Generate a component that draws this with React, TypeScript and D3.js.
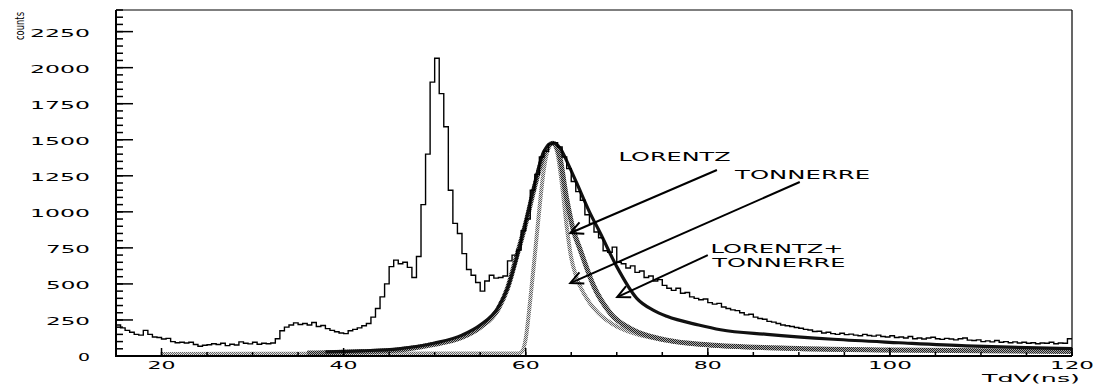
import React from 'react';
import * as d3 from 'd3';

// histogram: 0.5 ns bins starting at 15 ns
const BIN_START = 15;
const BIN_WIDTH = 0.5;
const histCounts = [
  215, 195, 178, 165, 150, 145, 178, 150, 132, 128,
  118, 122, 100, 92, 95, 90, 95, 80, 68, 75,
  78, 85, 80, 88, 72, 82, 76, 98, 88, 84,
  95, 82, 88, 85, 90, 120, 175, 200, 215, 230,
  218, 225, 215, 232, 205, 212, 190, 178, 168, 160,
  155, 175, 185, 195, 210, 225, 270, 330, 410, 500,
  620, 665, 640, 650, 615, 545, 690, 1050, 1400, 1900,
  2065, 1820, 1590, 1150, 920, 850, 710, 600, 560, 510,
  450, 520, 560, 540, 545, 555, 660, 700, 735, 870,
  950, 1150, 1260, 1380, 1420, 1470, 1480, 1450, 1380, 1300,
  1210, 1140, 1080, 980, 920, 860, 820, 730, 720, 755,
  650, 640, 610, 625, 580, 590, 545, 555, 520, 530,
  490, 470, 455, 470, 435, 440, 410, 400, 390, 395,
  370, 360, 365, 340, 330, 320, 315, 300, 285, 290,
  270, 260, 255, 240, 235, 225, 215, 210, 205, 198,
  192, 185, 180, 170, 172, 160, 165, 155, 150, 158,
  148, 152, 145, 140, 150, 142, 138, 145, 135, 132,
  140, 128, 132, 125, 135, 120, 125, 118, 125, 130,
  120, 115, 122, 118, 112, 120, 125, 110, 108, 112,
  100, 105, 98, 108, 95, 100, 92, 98, 90, 95,
  88, 92, 85, 90, 88, 95, 85, 90, 88, 120,
];

// fitted curves
const tonnerrePts: [number, number][] = [
  [20, 14], [30, 15], [40, 16], [50, 17], [59.2, 18], [59.6, 30], [60.0, 120], [60.5, 390],
  [61.0, 700], [61.5, 1020], [62.0, 1300], [62.5, 1440], [63.0, 1475], [63.5, 1400],
  [64.0, 1180], [64.5, 900], [65.0, 680], [65.5, 560], [66.0, 480], [67, 370], [68, 296],
  [70, 205], [72, 155], [75, 112], [80, 75], [85, 58], [90, 48], [100, 40], [110, 34], [120, 30],
];
const lorentzPts: [number, number][] = [
  [36, 20], [40, 26], [42, 30], [46, 42], [49.5, 76], [53, 130], [55, 200], [57, 330],
  [58, 470], [59, 690], [60, 920], [61, 1180], [62, 1400], [63, 1475], [63.6, 1420],
  [64.5, 1090], [65.2, 880], [66, 735], [67.5, 481], [69.3, 296], [71.8, 180], [75.5, 110],
  [80, 78], [90, 52], [100, 42], [110, 36], [120, 32],
];
const sumPts: [number, number][] = [
  [38, 28], [42, 36], [46, 50], [50, 90], [53, 145], [55, 215], [57, 340], [58, 470],
  [59, 680], [60, 930], [61, 1200], [62, 1420], [63, 1478], [63.8, 1440], [64.6, 1340],
  [65.6, 1200], [67, 1000], [68.2, 851], [70, 620], [72.2, 400], [74, 318], [75.5, 275],
  [79, 215], [81.4, 182], [86.5, 150], [93.8, 116], [101, 92], [108.4, 70], [115, 58], [120, 52],
];

const xMajorTicks = [20, 40, 60, 80, 100, 120];
const xMinorTicks = d3.range(20, 121, 5);
const yMajorTicks = d3.range(0, 2251, 250);
const yMinorTicks = d3.range(0, 2401, 50);

// annotation texts and arrows (data coordinates)
const labels = [
  { text: 'LORENTZ', x: 70.2, y: 1352, len: 112 },
  { text: 'TONNERRE', x: 83.0, y: 1227, len: 135 },
  { text: 'LORENTZ+', x: 80.3, y: 714, len: 133 },
  { text: 'TONNERRE', x: 80.5, y: 617, len: 133 },
];
const arrows = [
  { from: [81.0, 1290], to: [64.9, 853] },
  { from: [90.1, 1207], to: [64.9, 506] },
  { from: [80.0, 700], to: [70.05, 409] },
];

const W = 1097;
const H = 384;
const FONT = 'DejaVu Sans';

export default function App() {
  const x = d3.scaleLinear().domain([15, 120]).range([116, 1072]);
  const y = d3.scaleLinear().domain([0, 2400]).range([356, 10]);

  const histPts: [number, number][] = histCounts.map((c, i) => [BIN_START + i * BIN_WIDTH, c]);
  histPts.push([120, histCounts[histCounts.length - 1]]);
  const stepLine = d3.line<[number, number]>()
    .x(d => x(d[0])).y(d => y(d[1])).curve(d3.curveStepAfter);
  const smooth = d3.line<[number, number]>()
    .x(d => x(d[0])).y(d => y(d[1])).curve(d3.curveMonotoneX);

  const arrowHead = (a: { from: number[]; to: number[] }) => {
    const x0 = x(a.from[0]), y0 = y(a.from[1]);
    const x1 = x(a.to[0]), y1 = y(a.to[1]);
    const ang = Math.atan2(y0 - y1, x0 - x1);
    const L = 14, spread = 0.45;
    return `M${x1 + L * Math.cos(ang - spread)},${y1 + L * Math.sin(ang - spread)}L${x1},${y1}L${x1 + L * Math.cos(ang + spread)},${y1 + L * Math.sin(ang + spread)}`;
  };

  return (
    <svg width={W} height={H} style={{ position: 'absolute', left: 0, top: 0, background: '#fff' }}>
      <defs>
        {/* scanned-print style dither for the grey fit curves */}
        <pattern id="ditherLight" width={2} height={2} patternUnits="userSpaceOnUse">
          <rect width={2} height={2} fill="#e2e2e2" />
          <rect x={0} y={0} width={1} height={1} fill="#666" />
          <rect x={1} y={1} width={1} height={1} fill="#666" />
        </pattern>
        <pattern id="ditherDark" width={2} height={2} patternUnits="userSpaceOnUse">
          <rect width={2} height={2} fill="#aaa" />
          <rect x={0} y={0} width={1} height={1} fill="#222" />
          <rect x={1} y={1} width={1} height={1} fill="#222" />
        </pattern>
      </defs>

      {/* fitted curves */}
      <path d={smooth(tonnerrePts) || ''} fill="none" stroke="url(#ditherLight)" strokeWidth={4} />
      <path d={smooth(lorentzPts) || ''} fill="none" stroke="url(#ditherDark)" strokeWidth={5} />
      <path d={smooth(sumPts) || ''} fill="none" stroke="#111" strokeWidth={3.2} />

      {/* histogram */}
      <path d={stepLine(histPts) || ''} fill="none" stroke="#000" strokeWidth={1.4} />

      {/* frame */}
      <line x1={116} y1={10} x2={1072} y2={10} stroke="#000" strokeWidth={1.2} />
      <line x1={1072} y1={10} x2={1072} y2={356} stroke="#000" strokeWidth={1.2} />
      <line x1={116} y1={10} x2={116} y2={357} stroke="#000" strokeWidth={2} />
      <line x1={115} y1={356} x2={1072} y2={356} stroke="#000" strokeWidth={2} />

      {/* y ticks */}
      {yMinorTicks.map(t => (
        <line key={'ym' + t} x1={116} x2={123} y1={y(t)} y2={y(t)} stroke="#000" strokeWidth={1.5} />
      ))}
      {yMajorTicks.map(t => (
        <g key={'yM' + t}>
          <line x1={116} x2={133} y1={y(t)} y2={y(t)} stroke="#000" strokeWidth={1.5} />
          <text x={90} y={y(t) + 5} textAnchor="end" fontFamily={FONT} fontSize={11}
            textLength={String(t).length * 16 - 4} lengthAdjust="spacingAndGlyphs">{t}</text>
        </g>
      ))}

      {/* x ticks */}
      {xMinorTicks.map(t => (
        <line key={'xm' + t} x1={x(t)} x2={x(t)} y1={356} y2={352} stroke="#000" strokeWidth={1.5} />
      ))}
      {xMajorTicks.map(t => (
        <g key={'xM' + t}>
          <line x1={x(t)} x2={x(t)} y1={356} y2={348} stroke="#000" strokeWidth={1.5} />
          <text x={x(t)} y={369} textAnchor="middle" fontFamily={FONT} fontSize={11}
            textLength={String(t).length * 16 - 4} lengthAdjust="spacingAndGlyphs">{t}</text>
        </g>
      ))}

      {/* axis titles */}
      <text x={982} y={382} fontFamily={FONT} fontSize={11} textLength={98} lengthAdjust="spacingAndGlyphs">TdV(ns)</text>
      <text transform="translate(20,26) rotate(-90)" textAnchor="middle" dy="0.35em" fontFamily={FONT}
        fontSize={12} textLength={28} lengthAdjust="spacingAndGlyphs">counts</text>

      {/* annotations */}
      {arrows.map((a, i) => (
        <g key={'a' + i} stroke="#000" strokeWidth={2} fill="none">
          <line x1={x(a.from[0])} y1={y(a.from[1])} x2={x(a.to[0])} y2={y(a.to[1])} />
          <path d={arrowHead(a)} />
        </g>
      ))}
      {labels.map((l, i) => (
        <text key={'l' + i} x={x(l.x)} y={y(l.y)} fontFamily={FONT} fontSize={12}
          textLength={l.len} lengthAdjust="spacingAndGlyphs">{l.text}</text>
      ))}
    </svg>
  );
}
